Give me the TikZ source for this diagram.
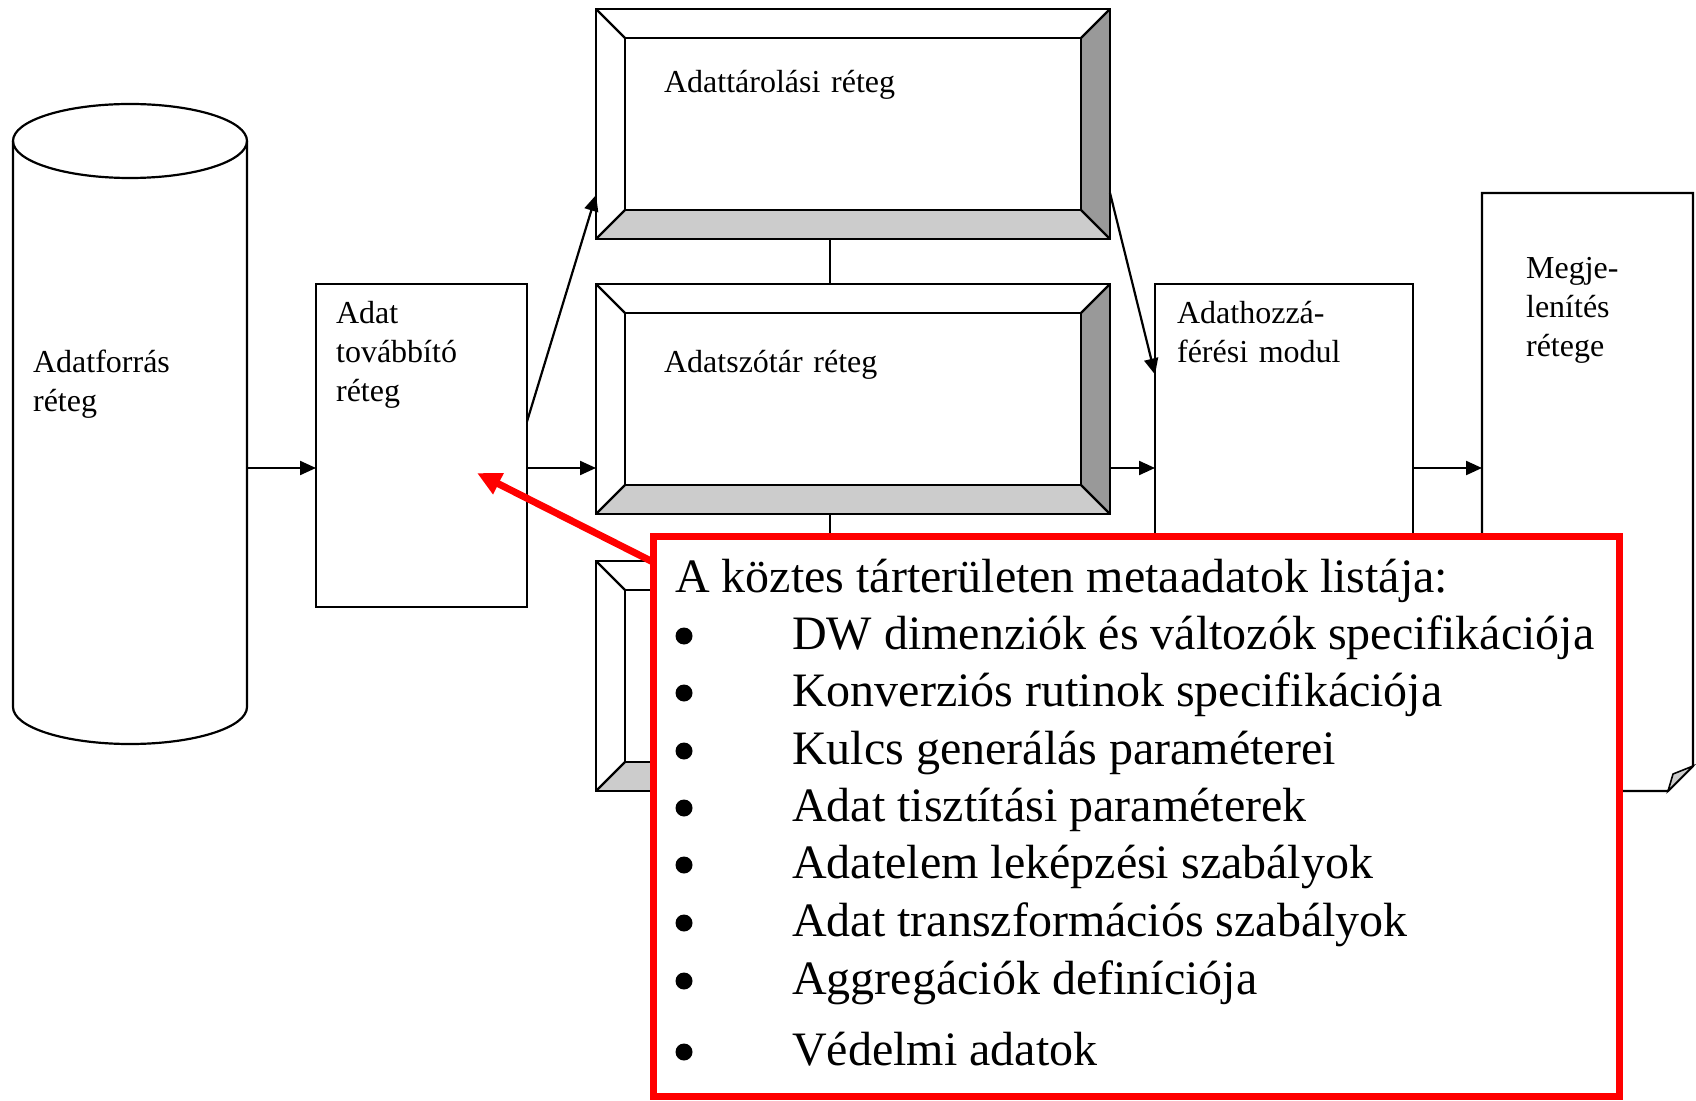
\documentclass[tikz,border=0pt]{standalone}
\usepackage{fontspec}
\setmainfont{Liberation Serif}
\usetikzlibrary{arrows.meta,calc}
\definecolor{darkbev}{HTML}{999999}
\definecolor{lightbev}{HTML}{CCCCCC}
\newcommand\bevelbox[1]{%
  \fill[darkbev] (#1.north east) -- (#1.south east) -- ($(#1.south east)+(-29,-29)$) -- ($(#1.north east)+(-29,29)$) -- cycle;
  \fill[lightbev] (#1.south west) -- (#1.south east) -- ($(#1.south east)+(-29,-29)$) -- ($(#1.south west)+(29,-29)$) -- cycle;
  \draw ($(#1.north west)+(29,29)$) rectangle ($(#1.south east)+(-29,-29)$);
  \draw (#1.north west) -- ++(29,29) (#1.north east) -- ++(-29,29)
        (#1.south west) -- ++(29,-29) (#1.south east) -- ++(-29,-29);
  \draw (#1.north west) rectangle (#1.south east);
}
\begin{document}
\begin{tikzpicture}[x=0.5pt,y=-0.5pt,line width=1.1pt,
  boxn/.style={draw=black,fill=white,inner sep=0pt,outer sep=0pt},
  ghost/.style={inner sep=0pt,outer sep=0pt},
  bev/.style={draw=black,fill=white,inner sep=0pt,outer sep=0pt,minimum width=257pt,minimum height=115pt},
  lbl/.style={anchor=base west,inner sep=0pt,align=left,text width=160pt,font=\fontsize{16pt}{19.5pt}\selectfont},
  listtxt/.style={anchor=base west,inner sep=0pt,font=\fontsize{24pt}{28pt}\selectfont},
  bul/.style={circle,fill=black,inner sep=0pt,minimum size=8.5pt},
  arr/.style={-{Triangle[length=8pt,width=7pt]}},
  redarr/.style={draw=red,line width=3.5pt,-{Triangle[length=12pt,width=11pt]}}]
\useasboundingbox (0,0) rectangle (1696,1101);
\fill[white] (0,0) rectangle (1696,1101);
\coordinate (row) at (0,468);

% cylinder
\node[ghost,minimum width=117pt,minimum height=283pt] (cyl) at (130,424) {};
\fill[white] (13,141) -- (13,707) arc[start angle=180,end angle=0,x radius=117,y radius=37] -- (247,141) -- cycle;
\draw (13,141) -- (13,707) arc[start angle=180,end angle=0,x radius=117,y radius=37] -- (247,141);
\draw (130,141) ellipse [x radius=117,y radius=37];
\node[lbl] (tcyl) at (32,372) {Adatforrás\\réteg};

% Adat tovabbito
\node[boxn,minimum width=105.5pt,minimum height=161.5pt] (ad) at (421.5,445.5) {};
\node[lbl] (tad) at (335,324) {Adat\\továbbító\\réteg};

% bevel boxes
\node[bev] (b1) at (853,124) {};
\bevelbox{b1}
\node[bev] (b2) at (853,399) {};
\bevelbox{b2}
\node[bev] (b3) at (853,676) {};
\bevelbox{b3}
\node[lbl] (tb1) at (663,93) {Adattárolási réteg};
\node[lbl] (tb2) at (663,372) {Adatszótár réteg};
\draw ($(b1.south)+(-23,0)$) -- ($(b2.north)+(-23,0)$);
\draw ($(b2.south)+(-23,0)$) -- ($(b3.north)+(-23,0)$);

% Adathozzaferesi modul
\node[boxn,minimum width=129pt,minimum height=161.5pt] (ah) at (1284,445.5) {};
\node[lbl] (tah) at (1176,324) {Adathozzá-\\férési modul};

% page
\node[ghost,minimum width=105.5pt,minimum height=299pt] (pg) at (1587.5,492) {};
\draw[fill=white] (pg.north west) -- (pg.north east) -- ($(pg.south east)+(0,-25)$) -- ($(pg.south east)+(-25,0)$) -- (pg.south west) -- cycle;
\draw[fill=lightbev,line width=0.8pt] ($(pg.south east)+(-25,0)$) -- ($(pg.south east)+(-20,-17)$) -- ($(pg.south east)+(0,-25)$) -- cycle;
\node[lbl] (tpg) at (1525,279) {Megje-\\lenítés\\rétege};

% arrows
\draw[arr] (cyl.east |- row) -- (ad.west |- row);
\draw[arr] (ad.east |- row) -- (b2.west |- row);
\draw[arr] (b2.east |- row) -- (ah.west |- row);
\draw[arr] (ah.east |- row) -- (pg.west |- row);
\draw[arr] ($(ad.east)+(0,-24)$) -- ($(b1.west)+(0,71)$);
\draw[arr] ($(b1.east)+(0,69)$) -- ($(ah.west)+(0,-71)$);

% red box
\node[draw=red,line width=3.5pt,fill=white,inner sep=0pt,outer sep=0pt,minimum width=483pt,minimum height=280pt] (rb) at (1136,816) {};
\node[listtxt] (rhead) at (674,592) {A köztes tárterületen metaadatok listája:};
\foreach \yy/\txt [count=\i] in {649/DW dimenziók és változók specifikációja,
  706/Konverziós rutinok specifikációja,
  764/Kulcs generálás paraméterei,
  821/Adat tisztítási paraméterek,
  878/Adatelem leképzési szabályok,
  936/Adat transzformációs szabályok,
  994/Aggregációk definíciója,
  1065/Védelmi adatok}{
  \node[bul] (bul\i) at (684,\yy-13) {};
  \node[listtxt] (item\i) at (791,\yy) {\txt};
}
\coordinate (rtip) at (477,473);
\draw[redarr] ($(rb.north west)+(0,26)$) -- (rtip);
\end{tikzpicture}
\end{document}
